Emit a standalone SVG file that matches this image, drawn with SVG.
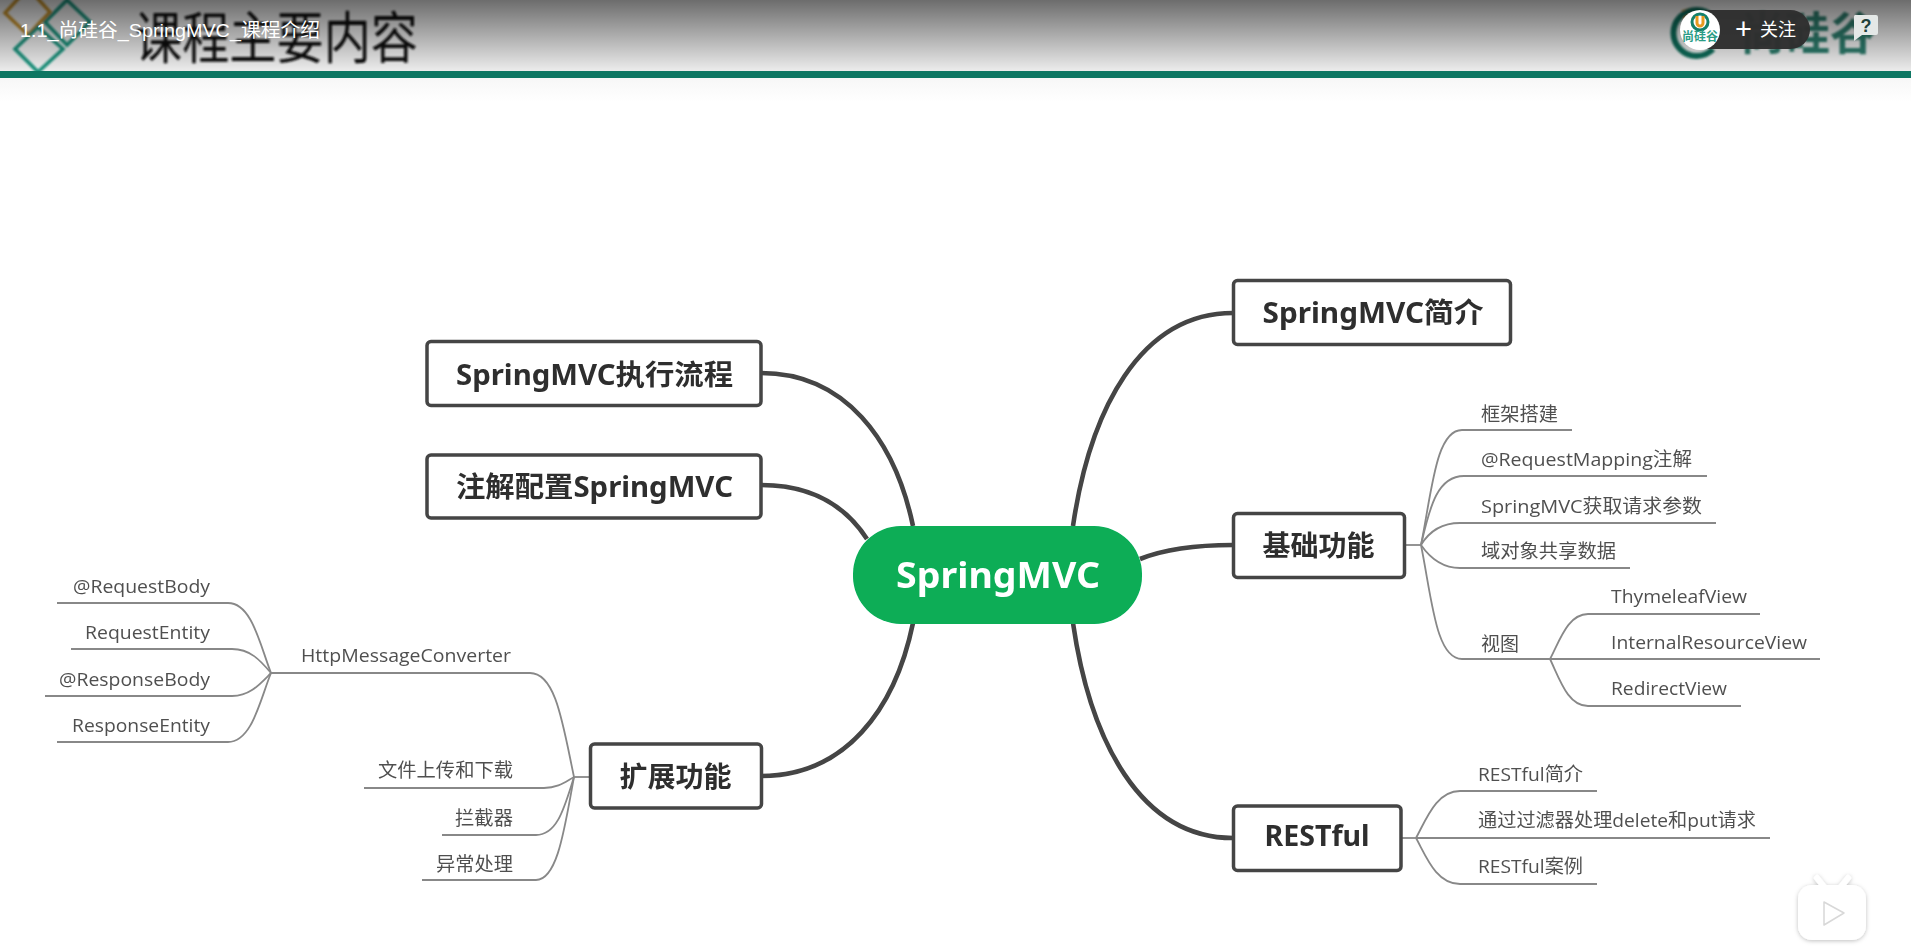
<svg xmlns="http://www.w3.org/2000/svg" width="1911" height="947" viewBox="0 0 1911 947">
<style>
text{font-family:"Open Sans","Noto Sans","Noto Sans CJK SC",sans-serif}
.box{fill:#fff;stroke:#444;stroke-width:3.5}
.main{font-size:28px;font-weight:700;fill:#2e2e2e;font-family:"Noto Sans","Noto Sans CJK SC",sans-serif}
.sub{font-size:19px;fill:#505050}
.thick{fill:none;stroke:#444;stroke-width:4.6}
.thin{fill:none;stroke:#888;stroke-width:1.8}
.ui{font-family:"Liberation Sans","Noto Sans CJK SC",sans-serif;fill:#fff}
</style>
<defs>
<linearGradient id="shade" x1="0" y1="0" x2="0" y2="1"><stop offset="0" stop-color="#000" stop-opacity=".54"/><stop offset="1" stop-color="#000" stop-opacity="0"/></linearGradient>
<linearGradient id="fade" x1="0" y1="0" x2="0" y2="1"><stop offset="0" stop-color="#f7f7f7"/><stop offset="1" stop-color="#fff"/></linearGradient>
<filter id="soft" x="-5%" y="-5%" width="110%" height="110%"><feGaussianBlur stdDeviation=".65"/></filter>
<filter id="softer" x="-5%" y="-5%" width="110%" height="110%"><feGaussianBlur stdDeviation="1"/></filter>
<filter id="shadow" x="-30%" y="-30%" width="160%" height="160%"><feDropShadow dx="0" dy="1" stdDeviation="2" flood-color="#000" flood-opacity=".25"/></filter>
</defs>
<rect width="1911" height="947" fill="#fff"/>
<g id="slide-header">
<rect width="1911" height="71" fill="#ececec"/>
<rect y="78" width="1911" height="24" fill="url(#fade)"/>
<g filter="url(#softer)">
<g fill="none" stroke-width="3.5">
<path d="M5 13L28-12L50 12L28 35Z" stroke="#c4902c"/>
<path d="M67 0L90 22L67 45L45 22Z" stroke="#14917a"/>
<path d="M38 27L63 49L38 72L15 49Z" stroke="#14917a"/>
</g>
<text x="135" y="58" font-size="56" fill="#111" textLength="283" lengthAdjust="spacingAndGlyphs" style="font-family:'Noto Sans CJK SC',sans-serif">课程主要内容</text>
<path d="M1686 9L1690 24" fill="none" stroke="#d9962a" stroke-width="9"/>
<path d="M1713 49A23 23 0 1 1 1713 17" fill="none" stroke="#0e6b58" stroke-width="6"/>
<text x="1740" y="50" font-size="45" font-weight="700" fill="#1a6e5c" fill-opacity=".9" style="font-family:'Noto Sans CJK SC',sans-serif">尚硅谷</text>
</g>
<rect y="71" width="1911" height="7" fill="#0e7763"/>
<rect width="1911" height="71" fill="url(#shade)"/>
</g>
<g id="connectors" filter="url(#soft)">
<path class="thick" d="M1073 526C1090 410 1140 313 1233 313"/>
<path class="thick" d="M1140 559C1165 549 1195 545 1233 545"/>
<path class="thick" d="M1073 623C1090 740 1140 838 1233 838"/>
<path class="thick" d="M913 526C895 440 845 373 761 373"/>
<path class="thick" d="M867 539C845 505 810 485 761 485"/>
<path class="thick" d="M913 623C895 710 845 776 761 776"/>
<path class="thin" d="M1405 545H1421"/>
<path class="thin" d="M1421 545C1432 490 1436 430 1462 430H1572"/>
<path class="thin" d="M1421 545C1430 505 1438 476 1464 476H1707"/>
<path class="thin" d="M1421 545C1430 530 1442 523 1460 523H1716"/>
<path class="thin" d="M1421 545C1430 558 1442 568 1460 568H1630"/>
<path class="thin" d="M1421 545C1432 600 1436 659 1462 659H1820"/>
<path class="thin" d="M1550 659C1560 640 1568 614 1588 614H1760"/>
<path class="thin" d="M1550 659C1560 680 1568 706 1588 706H1741"/>
<path class="thin" d="M1401 838H1416"/>
<path class="thin" d="M1416 838C1426 820 1436 791 1460 791H1597"/>
<path class="thin" d="M1416 838H1770"/>
<path class="thin" d="M1416 838C1426 856 1436 884 1460 884H1597"/>
<path class="thin" d="M590 777H574"/>
<path class="thin" d="M574 777C563 725 556 673 530 673H271"/>
<path class="thin" d="M574 777C565 782 558 788 544 788H364"/>
<path class="thin" d="M574 777C565 805 558 835 536 835H442"/>
<path class="thin" d="M574 777C565 825 558 880 536 880H422"/>
<path class="thin" d="M271 673C260 645 252 603 228 603H57"/>
<path class="thin" d="M271 673C260 660 250 649 232 649H71"/>
<path class="thin" d="M271 673C260 684 250 696 232 696H45"/>
<path class="thin" d="M271 673C260 700 252 742 228 742H57"/>
</g>
<g filter="url(#soft)">
<g id="node-root"><rect x="853" y="526" width="289" height="98" rx="48" fill="#07ad56"/><text x="896" y="588" font-size="36" font-weight="700" fill="#fff" textLength="204" lengthAdjust="spacingAndGlyphs" style="font-family:'Noto Sans',sans-serif">SpringMVC</text></g>
<g id="node-intro"><rect class="box" x="1233.500" y="280.500" width="277" height="64" rx="4"/><text class="main" x="1262.500" y="323" textLength="221" lengthAdjust="spacingAndGlyphs">SpringMVC简介</text></g>
<g id="node-flow"><rect class="box" x="427" y="341.500" width="334" height="64" rx="4"/><text class="main" x="456" y="385" textLength="277" lengthAdjust="spacingAndGlyphs">SpringMVC执行流程</text></g>
<g id="node-annotation"><rect class="box" x="427" y="455" width="334" height="63" rx="4"/><text class="main" x="456" y="497" textLength="277" lengthAdjust="spacingAndGlyphs">注解配置SpringMVC</text></g>
<g id="node-basic"><rect class="box" x="1233.500" y="513.500" width="171" height="64" rx="4"/><text class="main" x="1262.500" y="555.500" textLength="112" lengthAdjust="spacingAndGlyphs">基础功能</text></g>
<g id="node-extend"><rect class="box" x="590.500" y="744" width="171" height="64" rx="4"/><text class="main" x="619.500" y="787" textLength="112" lengthAdjust="spacingAndGlyphs">扩展功能</text></g>
<g id="node-rest"><rect class="box" x="1233.500" y="806" width="167.500" height="64.500" rx="4"/><text class="main" x="1264.500" y="846" textLength="105" lengthAdjust="spacingAndGlyphs">RESTful</text></g>
<g id="leaf-b1"><text class="sub" x="1481" y="420.500" textLength="77" lengthAdjust="spacingAndGlyphs">框架搭建</text></g>
<g id="leaf-b2"><text class="sub" x="1481" y="466" textLength="211" lengthAdjust="spacingAndGlyphs">@RequestMapping注解</text></g>
<g id="leaf-b3"><text class="sub" x="1481" y="512.500" textLength="221" lengthAdjust="spacingAndGlyphs">SpringMVC获取请求参数</text></g>
<g id="leaf-b4"><text class="sub" x="1481" y="558" textLength="135" lengthAdjust="spacingAndGlyphs">域对象共享数据</text></g>
<g id="leaf-b5"><text class="sub" x="1481" y="650.500" textLength="38" lengthAdjust="spacingAndGlyphs">视图</text></g>
<g id="leaf-v1"><text class="sub" x="1611" y="603" textLength="136" lengthAdjust="spacingAndGlyphs">ThymeleafView</text></g>
<g id="leaf-v2"><text class="sub" x="1611" y="649" textLength="196" lengthAdjust="spacingAndGlyphs">InternalResourceView</text></g>
<g id="leaf-v3"><text class="sub" x="1611" y="695" textLength="116" lengthAdjust="spacingAndGlyphs">RedirectView</text></g>
<g id="leaf-r1"><text class="sub" x="1478" y="780.500" textLength="105" lengthAdjust="spacingAndGlyphs">RESTful简介</text></g>
<g id="leaf-r2"><text class="sub" x="1478" y="827" textLength="278" lengthAdjust="spacingAndGlyphs">通过过滤器处理delete和put请求</text></g>
<g id="leaf-r3"><text class="sub" x="1478" y="873" textLength="105" lengthAdjust="spacingAndGlyphs">RESTful案例</text></g>
<g id="leaf-e1"><text class="sub" x="301" y="662" textLength="210" lengthAdjust="spacingAndGlyphs">HttpMessageConverter</text></g>
<g id="leaf-e2"><text class="sub" x="378" y="777" textLength="135" lengthAdjust="spacingAndGlyphs">文件上传和下载</text></g>
<g id="leaf-e3"><text class="sub" x="455" y="825" textLength="58" lengthAdjust="spacingAndGlyphs">拦截器</text></g>
<g id="leaf-e4"><text class="sub" x="436" y="871" textLength="77" lengthAdjust="spacingAndGlyphs">异常处理</text></g>
<g id="leaf-h1"><text class="sub" x="73" y="592.500" textLength="137" lengthAdjust="spacingAndGlyphs">@RequestBody</text></g>
<g id="leaf-h2"><text class="sub" x="85" y="638.500" textLength="125" lengthAdjust="spacingAndGlyphs">RequestEntity</text></g>
<g id="leaf-h3"><text class="sub" x="59" y="685.500" textLength="151" lengthAdjust="spacingAndGlyphs">@ResponseBody</text></g>
<g id="leaf-h4"><text class="sub" x="72" y="731.500" textLength="138" lengthAdjust="spacingAndGlyphs">ResponseEntity</text></g>
</g>
<g id="player-overlay">
<text class="ui" x="20" y="37" font-size="19" textLength="300" lengthAdjust="spacingAndGlyphs">1.1_尚硅谷_SpringMVC_课程介绍</text>
<rect x="1690" y="10" width="120" height="39" rx="19.500" fill="#2e2e2e" fill-opacity=".97"/>
<circle cx="1700" cy="30" r="20" fill="#fff"/>
<circle cx="1700" cy="22" r="8" fill="none" stroke="#15806b" stroke-width="3"/>
<path d="M1697 16V23A3 3 0 0 0 1703 23V16" fill="none" stroke="#e79a20" stroke-width="3"/>
<text x="1700" y="41" font-size="12" font-weight="700" fill="#2a9c85" text-anchor="middle" style="font-family:'Noto Sans CJK SC',sans-serif">尚硅谷</text>
<text class="ui" x="1735" y="39" font-size="29">+</text>
<text class="ui" x="1760" y="36" font-size="18">关注</text>
<path d="M1855 15H1876A2 2 0 0 1 1878 17V33A2 2 0 0 1 1876 35H1862L1854 41V17A2 2 0 0 1 1855 15Z" fill="#e4e8e7"/>
<text x="1866" y="32" font-size="18" font-weight="700" fill="#1f3f3a" text-anchor="middle" style="font-family:'Liberation Sans',sans-serif">?</text>
</g>
<g id="tv-icon" filter="url(#shadow)">
<path d="M1817 878L1825 888M1848 878L1840 888" stroke="#fff" stroke-width="6" stroke-linecap="round"/>
<rect x="1798" y="885" width="68" height="55" rx="14" fill="#fff"/>
<path d="M1824 902L1844 913L1824 925Z" fill="#fff" stroke="#d8d8d8" stroke-width="1.500" stroke-linejoin="round"/>
</g>
</svg>
